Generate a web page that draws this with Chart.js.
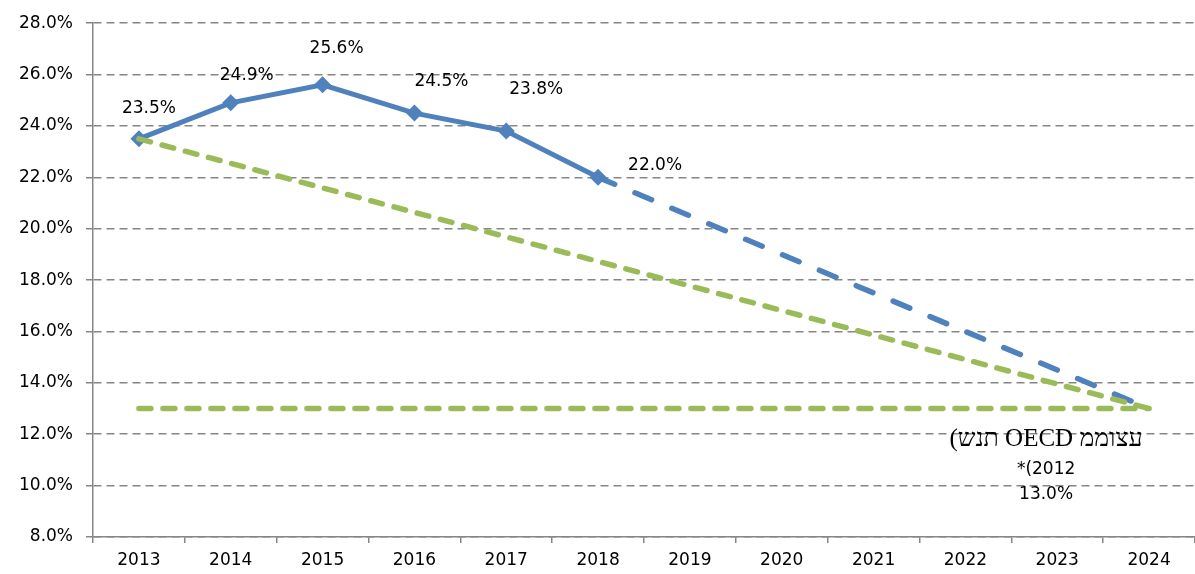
<!DOCTYPE html>
<html><head><meta charset="utf-8">
<script src="https://cdn.jsdelivr.net/npm/chart.js@4/dist/chart.umd.min.js"></script>
<style>html,body{margin:0;padding:0;background:#fff}#wrap{width:1195px;height:574px}</style>
</head><body><div id="wrap"><canvas id="c" width="1195" height="574"></canvas></div>
<script>
const years = ['2013','2014','2015','2016','2017','2018','2019','2020','2021','2022','2023','2024'];
const actual = [23.5, 24.9, 25.6, 24.5, 23.8, 22.0, null, null, null, null, null, null];
const projection = [null, null, null, null, null, 22.0, null, null, null, null, null, 13.0];
const targetPath = [23.5, null, null, null, null, null, null, null, null, null, null, 13.0];
const oecdAverage = [13.0, 13.0, 13.0, 13.0, 13.0, 13.0, 13.0, 13.0, 13.0, 13.0, 13.0, 13.0];
const yMin = 8, yMax = 28, yStep = 2;
// note lines as displayed in the original picture (visual order, left to right)
const oecdNoteLines = ['(שנת OECD ממוצע', '*(2012', '13.0%'];

const BLUE = '#4F81BD', GREEN = '#9BBB59', GRID = '#868686';
const FONT = '"DejaVu Sans", sans-serif';
const LRO = '\u202D', PDF = '\u202C';

const labelOffsets = [[10,-30],[16,-27],[14,-36],[27,-32],[30,-42],[57,-12]];

const labelPlugin = {
  id: 'labels',
  afterDatasetsDraw(chart) {
    const ctx = chart.ctx;
    ctx.save();
    ctx.fillStyle = '#000';
    ctx.font = '17px ' + FONT;
    ctx.textAlign = 'center';
    ctx.textBaseline = 'middle';
    const meta = chart.getDatasetMeta(3);
    meta.data.forEach((pt, i) => {
      if (actual[i] == null) return;
      const off = labelOffsets[i] || [0,-20];
      ctx.fillText(actual[i].toFixed(1) + '%', pt.x + off[0], pt.y + off[1]);
    });
    const m0 = chart.getDatasetMeta(0);
    const last = m0.data[m0.data.length - 1];
    const cx = last.x - 103, cy = last.y;
    ctx.direction = 'ltr';
    ctx.font = '25px "Liberation Serif", serif';
    ctx.fillText(LRO + oecdNoteLines[0] + PDF, cx, cy + 31);
    ctx.font = '17px ' + FONT;
    ctx.fillText(LRO + oecdNoteLines[1] + PDF, cx, cy + 61);
    ctx.fillText(oecdNoteLines[2], cx, cy + 86);
    ctx.restore();
  }
};

new Chart(document.getElementById('c'), {
  type: 'line',
  data: {
    labels: years,
    datasets: [
      { label: 'oecd', data: oecdAverage, borderColor: GREEN, borderWidth: 5.5, borderDash: [12,12], borderCapStyle: 'round', pointRadius: 0, order: 1 },
      { label: 'target', data: targetPath, borderColor: GREEN, borderWidth: 5.5, borderDash: [12,12], borderCapStyle: 'round', pointRadius: 0, spanGaps: true, order: 0 },
      { label: 'projection', data: projection, borderColor: BLUE, borderWidth: 5.5, borderDash: [18,22], borderCapStyle: 'round', pointRadius: 0, spanGaps: true, order: 3 },
      { label: 'actual', data: actual, borderColor: BLUE, backgroundColor: BLUE, borderWidth: 5, pointStyle: 'rectRot', pointRadius: 8.5, pointHoverRadius: 8.5, pointBorderWidth: 0, order: 2 }
    ]
  },
  options: {
    responsive: false,
    devicePixelRatio: 1,
    animation: false,
    layout: { autoPadding: false, padding: { top: 18, right: 0, left: 0, bottom: 0 } },
    plugins: { legend: { display: false }, tooltip: { enabled: false } },
    elements: { line: { tension: 0 } },
    scales: {
      x: {
        offset: true,
        grid: { offset: true, drawOnChartArea: false, drawTicks: true, tickLength: 6, color: GRID, lineWidth: 1.5 },
        border: { color: GRID, width: 1.5 },
        ticks: { color: '#000', font: { family: FONT, size: 17 }, padding: 7, maxRotation: 0, autoSkip: false },
        afterFit(s) { s.height = 37; s.paddingLeft = 0; s.paddingRight = 0; }
      },
      y: {
        min: yMin, max: yMax,
        grid: { color: GRID, lineWidth: 1.5, tickLength: 7, drawTicks: true },
        border: { color: GRID, width: 1.5, dash: [8,5] },
        ticks: { stepSize: yStep, color: '#000', font: { family: FONT, size: 17 }, padding: 13, callback: v => v.toFixed(1) + '%' },
        afterFit(s) { s.width = 93; }
      }
    }
  },
  plugins: [labelPlugin]
});
</script></body></html>
